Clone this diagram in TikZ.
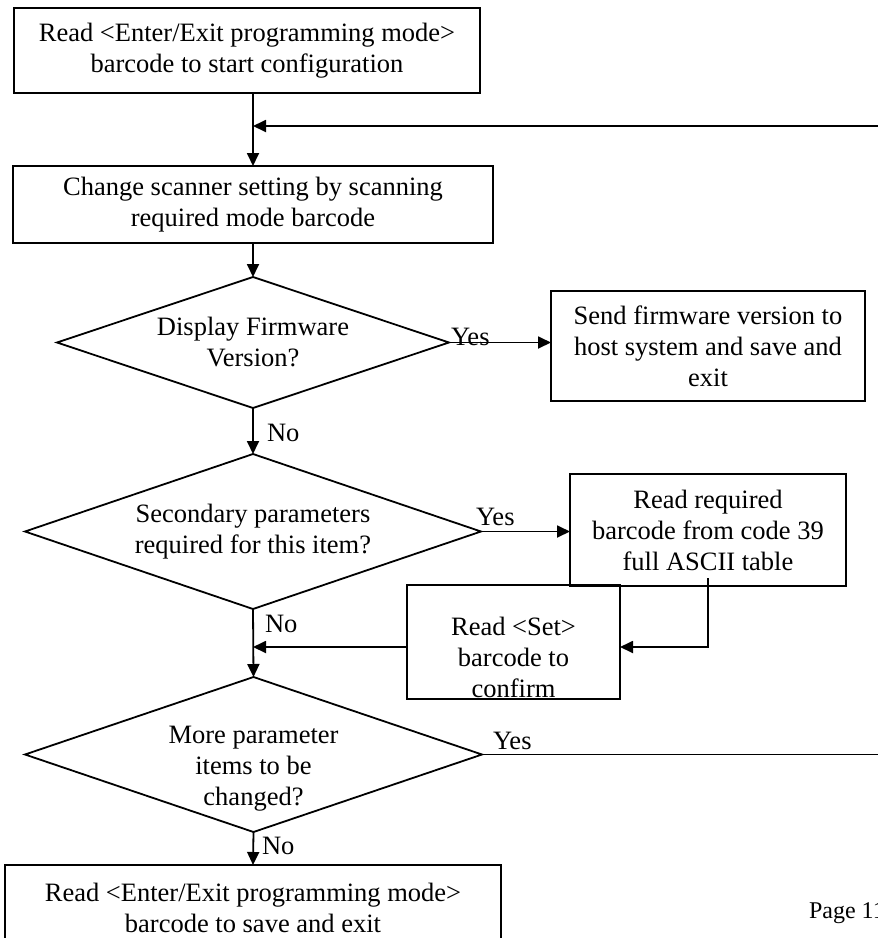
\documentclass[tikz,border=0pt]{standalone}
\usepackage{fontspec}
\setmainfont{Liberation Serif}
\usetikzlibrary{positioning}
\usetikzlibrary{shapes.geometric,arrows.meta}

\tikzset{
  box/.style={draw, rectangle, inner sep=0pt, outer sep=0pt, align=center},
  decision/.style={draw, diamond, inner sep=0pt, outer sep=0pt, align=center},
  tag/.style={inner sep=0pt, outer sep=0pt},
}

\begin{document}
\begin{tikzpicture}[x=0.5pt,y=-0.5pt,>={Triangle[length=6.5pt,width=6pt]},line width=0.9pt,
  font=\fontsize{13.25}{15.5}\selectfont]
  \useasboundingbox (0,0) rectangle (878,938);
  \clip (0,0) rectangle (878,938);
  % boxes and decisions
  \node[box, minimum width=233pt, minimum height=42.5pt] (start) at (247,50.5) {Read <Enter/Exit programming mode>\\barcode to start configuration};
  \node[box, minimum width=240pt, minimum height=38.5pt] (change) at (253,204.5) {Change scanner setting by scanning\\required mode barcode};
  \node[decision, minimum width=196pt, minimum height=65.5pt, aspect=3] (fw) at (253,342.5) {Display Firmware\\Version?};
  \node[box, minimum width=157pt, minimum height=55pt] (send) at (708,346) {Send firmware version to\\host system and save and\\exit};
  \node[decision, minimum width=228pt, minimum height=77.5pt, aspect=2.94] (sec) at (253,531.5) {Secondary parameters\\required for this item?};
  \node[box, minimum width=138pt, minimum height=56pt] (ascii) at (708,530) {Read required\\barcode from code 39\\full ASCII table};
  \node[box, minimum width=106.5pt, minimum height=57pt] (setbc) at (513.5,642) {};
  \node[tag, align=center] (setbctext) at (513.5,657) {Read <Set>\\barcode to\\confirm};
  \node[decision, minimum width=228.5pt, minimum height=77.5pt, aspect=2.95] (more) at (253.5,754.5) {};
  \node[tag, align=center] (moretext) at (253.5,769) {More parameter\\items to be\\changed?};
  \node[box, minimum width=248pt, minimum height=42.5pt] (finish) at (253,907.5) {Read <Enter/Exit programming mode>\\barcode to save and exit};
  \node[tag, anchor=base west, font=\fontsize{12}{14}\selectfont] (page) at (809,918) {Page 11};
  % helper points
  \coordinate (join) at (253,126);
  \coordinate (merge) at (253,647);
  \coordinate (drop) at (708,578);
  \coordinate (rim) at (886,754.5);
  % connectors
  \draw[->] (start.south -| change.north) -- (change.north);
  \draw[->] (change.south) -- (fw.north);
  \draw[->] (fw.east) -- (fw.east -| send.west);
  \draw[->] (fw.south) -- (sec.north);
  \draw[->] (sec.east) -- (sec.east -| ascii.west);
  \draw[->] (drop) -- (drop |- merge) -- (setbc.east |- merge);
  \draw[->] (setbc.west |- merge) -- (merge);
  \draw[->] (sec.south) -- (more.north);
  \draw[->] (more.south) -- (finish.north);
  \draw[->] (more.east) -- (rim) |- (join);
  % yes / no labels
  \node[tag, anchor=base west] (fwyes) at (451,345) {Yes};
  \node[tag, anchor=base west] (fwno) at (267,441.5) {No};
  \node[tag, anchor=base west] (secyes) at (476,525.5) {Yes};
  \node[tag, anchor=base west] (secno) at (265,632.5) {No};
  \node[tag, anchor=base west] (moreyes) at (493,749.5) {Yes};
  \node[tag, anchor=base west] (moreno) at (262,854.5) {No};
\end{tikzpicture}
\end{document}
